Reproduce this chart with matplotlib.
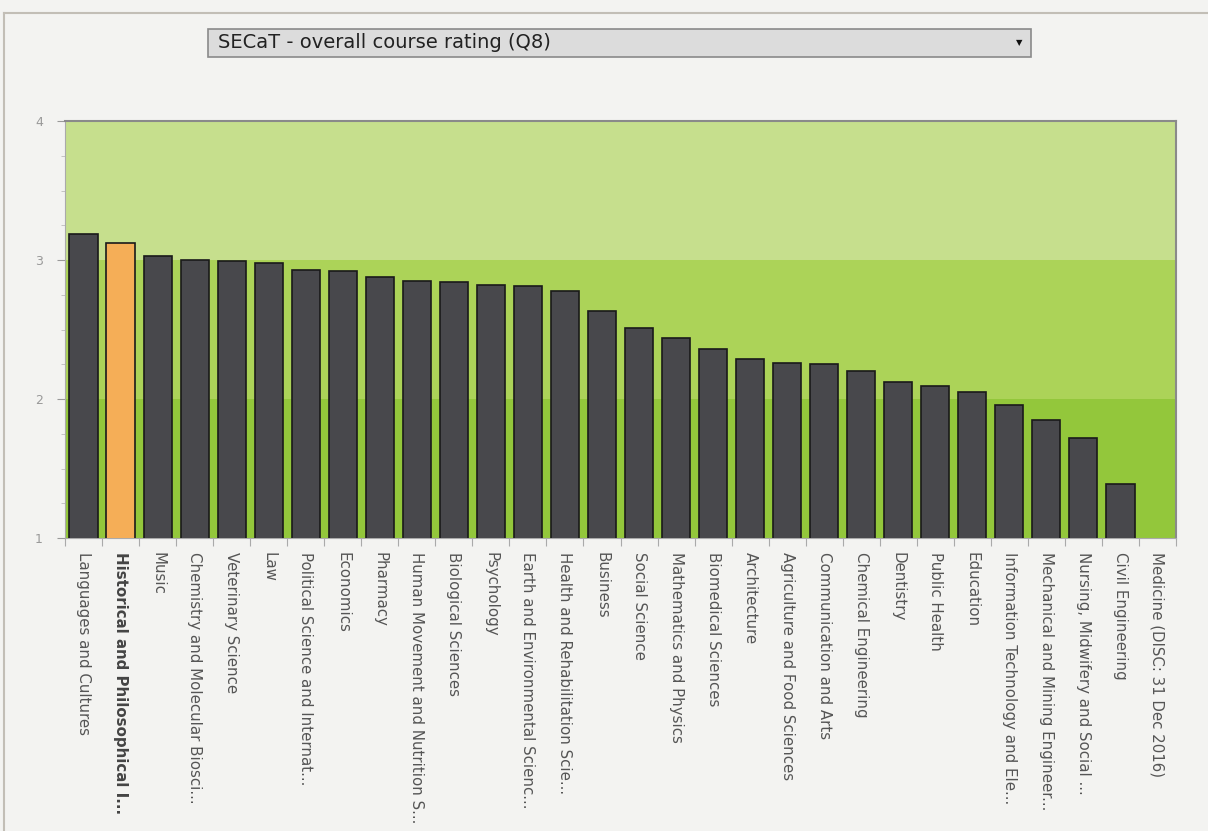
import numpy as np
import matplotlib.pyplot as plt
from matplotlib.patches import Rectangle
from matplotlib.lines import Line2D

categories = [
    "Languages and Cultures", "Historical and Philosophical I...", "Music",
    "Chemistry and Molecular Biosci...", "Veterinary Science", "Law",
    "Political Science and Internat...", "Economics", "Pharmacy",
    "Human Movement and Nutrition S...", "Biological Sciences", "Psychology",
    "Earth and Environmental Scienc...", "Health and Rehabilitation Scie...",
    "Business", "Social Science", "Mathematics and Physics",
    "Biomedical Sciences", "Architecture", "Agriculture and Food Sciences",
    "Communication and Arts", "Chemical Engineering", "Dentistry",
    "Public Health", "Education", "Information Technology and Ele...",
    "Mechanical and Mining Engineer...", "Nursing, Midwifery and Social ...",
    "Civil Engineering", "Medicine (DISC: 31 Dec 2016)",
]
ratings = [3.19, 3.12, 3.03, 3.00, 2.99, 2.98, 2.93, 2.92, 2.88, 2.85,
           2.84, 2.82, 2.81, 2.78, 2.63, 2.51, 2.44, 2.36, 2.29, 2.26,
           2.25, 2.20, 2.12, 2.09, 2.05, 1.96, 1.85, 1.72, 1.39, np.nan]
highlight = "Historical and Philosophical I..."

bands = [(1, 2, "#93c73b"), (2, 3, "#acd358"), (3, 4, "#c6df8d")]

fig = plt.figure(figsize=(12.08, 8.31), dpi=100)
fig.patch.set_facecolor("#f3f3f1")

# outer widget frame
fig.add_artist(Line2D([4 / 1208, 1], [1 - 13 / 831] * 2, color="#c2beb6", lw=1.5))
fig.add_artist(Line2D([4 / 1208] * 2, [0, 1 - 13 / 831], color="#c2beb6", lw=1.5))

# dropdown box
x0, y0, x1, y1 = 208 / 1208, 1 - 57 / 831, 1031 / 1208, 1 - 29 / 831
fig.add_artist(Rectangle((x0, y0), x1 - x0, y1 - y0, transform=fig.transFigure,
                         facecolor="#dcdcdc", edgecolor="#8a8a8a", lw=1.2))
fig.text(x0 + 10 / 1208, (y0 + y1) / 2 + 1 / 831, "SECaT - overall course rating (Q8)",
         fontsize=14, color="#222222", va="center", ha="left")
fig.text(x1 - 12 / 1208, (y0 + y1) / 2, "\u25bc", fontsize=6, color="#111111",
         va="center", ha="center")

ax = fig.add_axes([65 / 1208, 1 - 538 / 831, 1111 / 1208, 417 / 831])
ax.set_facecolor("#f3f3f1")

n = len(categories)
x = np.arange(n)
for lo, hi, col in bands:
    ax.axhspan(lo, hi, color=col, zorder=0, lw=0)

colors = ["#f5ae57" if c == highlight else "#48484c" for c in categories]
ax.bar(x, ratings, width=0.76, bottom=0, color=colors, edgecolor="#1a1a1a",
       linewidth=1.2, zorder=3)

ax.set_xlim(-0.5, n - 0.5)
ax.set_ylim(1, 4)
ax.set_yticks([1, 2, 3, 4])
ax.set_yticks(np.arange(1, 4.01, 0.25), minor=True)
ax.set_xticks(np.arange(-0.5, n, 1.0))
ax.set_xticklabels([])
ax.set_xticks(x, minor=True)
ax.set_xticklabels(categories, minor=True, rotation=270, ha="center", va="top",
                   fontsize=10.8, color="#555555")
for lbl in ax.get_xticklabels(minor=True):
    if lbl.get_text() == highlight:
        lbl.set_fontweight("bold")
        lbl.set_color("#444444")

ax.tick_params(axis="x", which="minor", length=0, pad=10)
ax.tick_params(axis="x", which="major", length=6, color="#aaaaaa", direction="out")
ax.tick_params(axis="y", which="major", length=6, color="#999999", labelsize=9,
               labelcolor="#999999", pad=10)
ax.tick_params(axis="y", which="minor", length=3, color="#bbbbbb")

for side in ["top", "right"]:
    ax.spines[side].set_color("#8a8a8a")
    ax.spines[side].set_linewidth(1.5)
ax.spines["left"].set_color("#aaaaaa")
ax.spines["bottom"].set_color("#aaaaaa")

fig.savefig("out.png", dpi=100, facecolor=fig.get_facecolor())
